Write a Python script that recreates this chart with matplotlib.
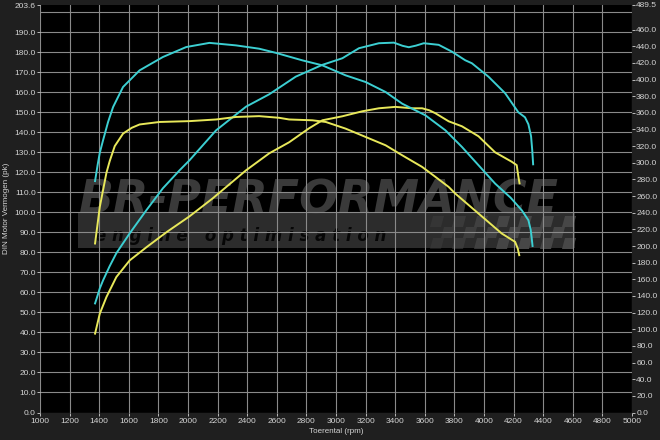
import matplotlib
matplotlib.use("Agg")
import matplotlib.pyplot as plt
import numpy as np
from matplotlib.patches import Polygon, Rectangle

# tuned (cyan) power, pk
cp_rpm = [1372, 1385, 1404, 1426, 1470, 1516, 1606, 1718, 1830, 1943, 2010, 2190, 2392,
          2549, 2728, 2908, 3043, 3155, 3290, 3391, 3450, 3492, 3540, 3593, 3694, 3783,
          3873, 3918, 4030, 4143, 4232, 4277, 4300, 4318, 4326, 4332]
cp_pk = [54.5, 57.5, 62, 66, 73, 79.6, 89.5, 101, 112, 121, 126, 141, 152.8,
         159, 167.8, 173.7, 177, 182, 184.5, 184.8, 183.2, 182.5, 183.3, 184.5, 183.7, 180.3,
         176, 174.5, 167.8, 159.5, 150, 147.5, 144, 138, 131, 124]

# tuned (cyan) torque, Nm
ct_rpm = [1372, 1390, 1404, 1426, 1460, 1494, 1561, 1673, 1830, 1988, 2145, 2324, 2481,
          2594, 2773, 2908, 3065, 3200, 3335, 3447, 3514, 3604, 3739, 3851, 3963, 4075,
          4180, 4255, 4300, 4315, 4322, 4328]
ct_nm = [278, 298, 312, 327, 349, 367, 391, 411, 427, 439, 444, 441, 437,
         432, 423, 417, 405, 397, 385, 371, 365, 357, 339, 319, 297, 275,
         258, 243, 231, 220, 210, 200]

# stock (yellow) power, pk
yp_rpm = [1372, 1404, 1449, 1516, 1606, 1718, 1853, 2010, 2167, 2392, 2549, 2683, 2818,
          2908, 3043, 3178, 3290, 3402, 3514, 3582, 3630, 3672, 3761, 3851, 3963, 4075,
          4187, 4221, 4232, 4240]
yp_pk = [39.4, 49.4, 57.7, 67.7, 76, 82.5, 90, 98, 107, 121, 129.5, 135, 142,
         146, 148, 150.5, 152, 152.7, 152, 152, 151, 149.5, 145.5, 143, 138, 130,
         125.3, 123.6, 118, 114.5]

# stock (yellow) torque, Nm
yt_rpm = [1372, 1404, 1449, 1471, 1505, 1561, 1620, 1673, 1808, 2010, 2190, 2324, 2481,
          2616, 2683, 2841, 2931, 3065, 3200, 3335, 3447, 3582, 3672, 3761, 3806, 3963,
          4120, 4210, 4228, 4238]
yt_nm = [203, 247, 288, 302, 320, 335, 342, 346, 349, 350, 352, 355, 356,
         354, 352, 351, 349, 341, 331, 321, 309, 295, 283, 271, 263, 239,
         215, 205, 197, 189]

X_TICKS = np.arange(1000, 5001, 200)
PK_MAX = 203.6
NM_MAX = 489.5
PK_TICKS = list(np.arange(0, 191, 10)) + [PK_MAX]
NM_TICKS = list(np.arange(0, 461, 20)) + [NM_MAX]

FIG_BG = "#1f1f1f"
TXT = "#d4d4d4"
GRID = "#8a8a8a"
CYAN = "#3ccfd2"
YELLOW = "#e8e85a"
WM = "#3a3a3a"

plt.rcParams["font.family"] = ["Liberation Sans", "DejaVu Sans"]

fig = plt.figure(figsize=(6.6, 4.4), dpi=100, facecolor=FIG_BG)
rect = [40 / 660, 1 - 412.5 / 440, 592 / 660, 407.5 / 440]

# underlay with black plot area and the watermark, in pixel coordinates
bg = fig.add_axes(rect, zorder=0)
bg.set_facecolor("black")
bg.set_xlim(40, 632)
bg.set_ylim(412.5, 5)
bg.set_xticks([])
bg.set_yticks([])
for s in bg.spines.values():
    s.set_visible(False)
bg.add_patch(Rectangle((78, 212), 497, 36, color="#2c2c2c", lw=0))
bg.text(78, 213, "BR-PERFORMANCE", color=WM, fontsize=33, fontweight="bold",
        style="italic", family="DejaVu Sans", ha="left", va="baseline")
bg.text(95, 241, "e n g i n e   o p t i m i s a t i o n", color="#060606",
        fontsize=12, fontweight="bold", style="italic", family="DejaVu Sans",
        ha="left", va="baseline")
sq = 11
for i in range(13):
    for j in range(3):
        if (i + j) % 2:
            continue
        x0 = 430 + i * sq
        y0 = 216 + j * sq
        shear = 3
        pts = [(x0 + shear, y0), (x0 + sq + shear, y0), (x0 + sq, y0 + sq), (x0, y0 + sq)]
        alpha = min(1.0, 0.35 + i * 0.1)
        bg.add_patch(Polygon(pts, closed=True, color="#474747", alpha=alpha, lw=0))

ax = fig.add_axes(rect, zorder=1)
ax.set_facecolor("none")
ax.set_xlim(1000, 5000)
ax.set_ylim(0, PK_MAX)
for x in X_TICKS:
    ax.axvline(x, color=GRID, lw=0.8, zorder=1)
for y in np.arange(0, 201, 10):
    ax.axhline(y, color=GRID, lw=0.8, zorder=1)

ax.plot(cp_rpm, cp_pk, color=CYAN, lw=1.4, zorder=3)
ax.plot(yp_rpm, yp_pk, color=YELLOW, lw=1.4, zorder=3)

ax.set_xticks(X_TICKS)
ax.set_xticklabels([str(v) for v in X_TICKS])
ax.set_yticks(PK_TICKS)
ax.set_yticklabels([f"{v:.1f}" for v in PK_TICKS])
ax.tick_params(colors=TXT, labelsize=6, length=2, width=0.6, pad=1)
ax.tick_params(axis="x", pad=2)
for s in ax.spines.values():
    s.set_visible(False)
ax.set_xlabel("Toerental (rpm)", color=TXT, fontsize=5.8, labelpad=2)
ax.set_ylabel("DIN Motor Vermogen (pk)", color=TXT, fontsize=5.8, labelpad=3)

ax2 = ax.twinx()
ax2.set_zorder(2)
ax2.set_facecolor("none")
ax2.set_ylim(0, NM_MAX)
ax2.plot(ct_rpm, ct_nm, color=CYAN, lw=1.4)
ax2.plot(yt_rpm, yt_nm, color=YELLOW, lw=1.4)
ax2.set_yticks(NM_TICKS)
ax2.set_yticklabels([f"{v:.1f}" for v in NM_TICKS])
ax2.tick_params(colors=TXT, labelsize=6, length=2, width=0.6, pad=1)
for s in ax2.spines.values():
    s.set_visible(False)

fig.savefig("out.png", dpi=100, facecolor=FIG_BG)
